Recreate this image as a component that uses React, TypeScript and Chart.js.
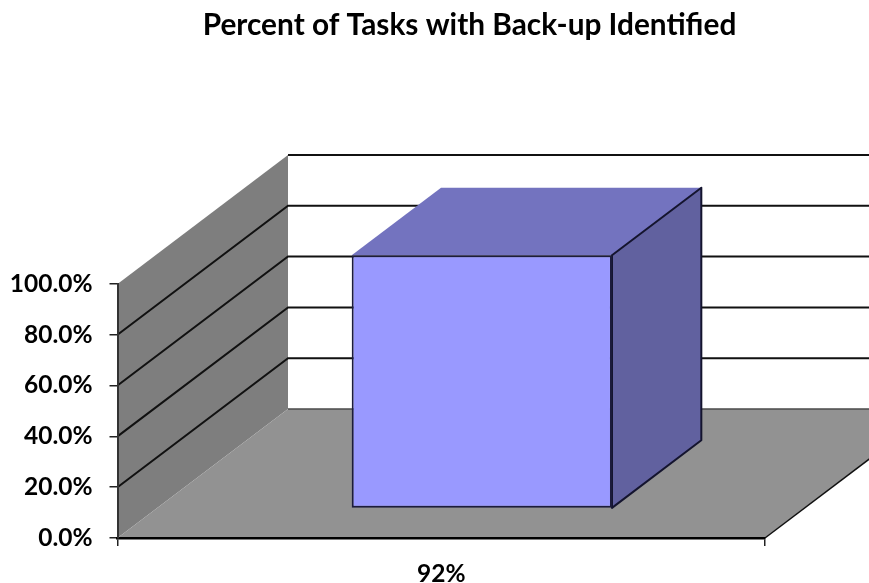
import React, { useEffect, useRef } from "react";
import { Chart, registerables } from "chart.js";

Chart.register(...registerables);

const titleText = "Percent of Tasks with Back-up Identified";
const categories = ["92%"];
const seriesValues = [0.997];

const FONT = "Lato, Carlito, 'Open Sans', sans-serif";
const DEPTH_X = 170.5;
const DEPTH_Y = -129;
const BAR_GAP_X = 0.238; // share of the chart depth in front of the bar
const BAR_GAP_Y = 0.228;
const BAR_DEPTH = 0.524; // share of the chart depth taken by the bar
const WIDTH = 869;

const walls = {
  id: "walls3d",
  afterLayout(chart: any) {
    if (chart.titleBlock) chart.titleBlock.left += 174;
  },
  beforeDraw(chart: any) {
    const { ctx, chartArea: a, scales } = chart;
    const y = scales.y;
    const bx = a.left + DEPTH_X;
    const byTop = a.top + DEPTH_Y;
    const byBottom = a.bottom + DEPTH_Y;
    ctx.save();
    // left wall
    ctx.fillStyle = "#7e7e7e";
    ctx.beginPath();
    ctx.moveTo(a.left, a.bottom);
    ctx.lineTo(a.left, a.top);
    ctx.lineTo(bx, byTop);
    ctx.lineTo(bx, byBottom);
    ctx.closePath();
    ctx.fill();
    // floor
    ctx.fillStyle = "#929292";
    ctx.beginPath();
    ctx.moveTo(a.left, a.bottom);
    ctx.lineTo(bx, byBottom);
    ctx.lineTo(a.right + DEPTH_X, byBottom);
    ctx.lineTo(a.right, a.bottom);
    ctx.closePath();
    ctx.fill();
    // floor edges
    ctx.strokeStyle = "#4a4a4a";
    ctx.lineWidth = 1.5;
    ctx.beginPath();
    ctx.moveTo(bx, byBottom);
    ctx.lineTo(WIDTH, byBottom);
    ctx.stroke();
    ctx.strokeStyle = "#111";
    ctx.beginPath();
    ctx.moveTo(a.right, a.bottom);
    ctx.lineTo(a.right + DEPTH_X, byBottom);
    ctx.stroke();
    // grid lines along both walls
    ctx.lineWidth = 2;
    ctx.strokeStyle = "#111";
    y.ticks.forEach((t: any) => {
      if (t.value <= 0) return;
      const py = y.getPixelForValue(t.value);
      ctx.beginPath();
      if (t.value < 0.999) {
        ctx.moveTo(a.left, py);
        ctx.lineTo(bx, py + DEPTH_Y);
      } else {
        ctx.moveTo(bx, py + DEPTH_Y);
      }
      ctx.lineTo(WIDTH, py + DEPTH_Y);
      ctx.stroke();
    });
    ctx.restore();
  },
  beforeDatasetDraw(chart: any, args: any) {
    const { ctx } = chart;
    const el = args.meta.data[0];
    const half = el.width / 2;
    const dx = DEPTH_X * BAR_GAP_X;
    const dy = DEPTH_Y * BAR_GAP_Y;
    const ox = DEPTH_X * BAR_DEPTH;
    const oy = DEPTH_Y * BAR_DEPTH;
    const l = el.x - half + dx;
    const r = el.x + half + dx;
    const t = el.y + dy;
    const b = el.base + dy;
    ctx.save();
    ctx.lineJoin = "round";
    ctx.lineWidth = 2;
    ctx.strokeStyle = "#14142e";
    // top
    ctx.fillStyle = "#7373bf";
    ctx.beginPath();
    ctx.moveTo(l, t);
    ctx.lineTo(l + ox, t + oy);
    ctx.lineTo(r + ox, t + oy);
    ctx.lineTo(r, t);
    ctx.closePath();
    ctx.fill();
    // right side
    ctx.fillStyle = "#61619f";
    ctx.beginPath();
    ctx.moveTo(r, t);
    ctx.lineTo(r + ox, t + oy);
    ctx.lineTo(r + ox, b + oy);
    ctx.lineTo(r, b);
    ctx.closePath();
    ctx.fill();
    ctx.stroke();
    ctx.restore();
    ctx.save();
    ctx.translate(dx, dy);
  },
  afterDatasetDraw(chart: any) {
    chart.ctx.restore();
  },
};

export default function App() {
  const ref = useRef<HTMLCanvasElement>(null);
  useEffect(() => {
    const chart = new Chart(ref.current as HTMLCanvasElement, {
      type: "bar",
      data: {
        labels: categories,
        datasets: [
          {
            data: seriesValues,
            backgroundColor: "#9999ff",
            borderColor: "#1c1c3c",
            borderWidth: 2,
            borderSkipped: false,
            barPercentage: 0.402,
            categoryPercentage: 1,
            clip: false as any,
          },
        ],
      },
      options: {
        animation: false,
        responsive: false,
        devicePixelRatio: 1,
        layout: { autoPadding: false, padding: { left: 0, right: 104, top: 0, bottom: 0 } },
        plugins: {
          legend: { display: false },
          tooltip: { enabled: false },
          title: {
            display: true,
            text: titleText,
            color: "#000",
            font: { family: FONT, size: 29.8, weight: "bold", lineHeight: 1.2 },
            padding: { top: 8, bottom: 240.2 },
          },
        },
        scales: {
          x: {
            afterFit(s: any) {
              s.height = 45;
            },
            border: { display: true, color: "#000", width: 2.5 },
            grid: { drawOnChartArea: false, drawTicks: true, tickLength: 8, color: "#222", lineWidth: 1.5 },
            ticks: {
              color: "#000",
              padding: 13,
              font: { family: FONT, size: 24.5, weight: "bold" },
            },
          },
          y: {
            min: 0,
            max: 1,
            afterFit(s: any) {
              s.width = 117.5;
            },
            border: { display: true, color: "#333", width: 2 },
            grid: { drawOnChartArea: false, drawTicks: true, tickLength: 8, color: "#222", lineWidth: 1.5 },
            ticks: {
              stepSize: 0.2,
              color: "#000",
              padding: 17,
              font: { family: FONT, size: 24.5, weight: "bold" },
              callback: (v: any) => (Number(v) * 100).toFixed(1) + "%",
            },
          },
        },
      },
      plugins: [walls],
    } as any);
    return () => chart.destroy();
  }, []);
  return (
    <canvas
      ref={ref}
      width={869}
      height={583}
      style={{ position: "absolute", left: 0, top: 0, display: "block" }}
    />
  );
}
